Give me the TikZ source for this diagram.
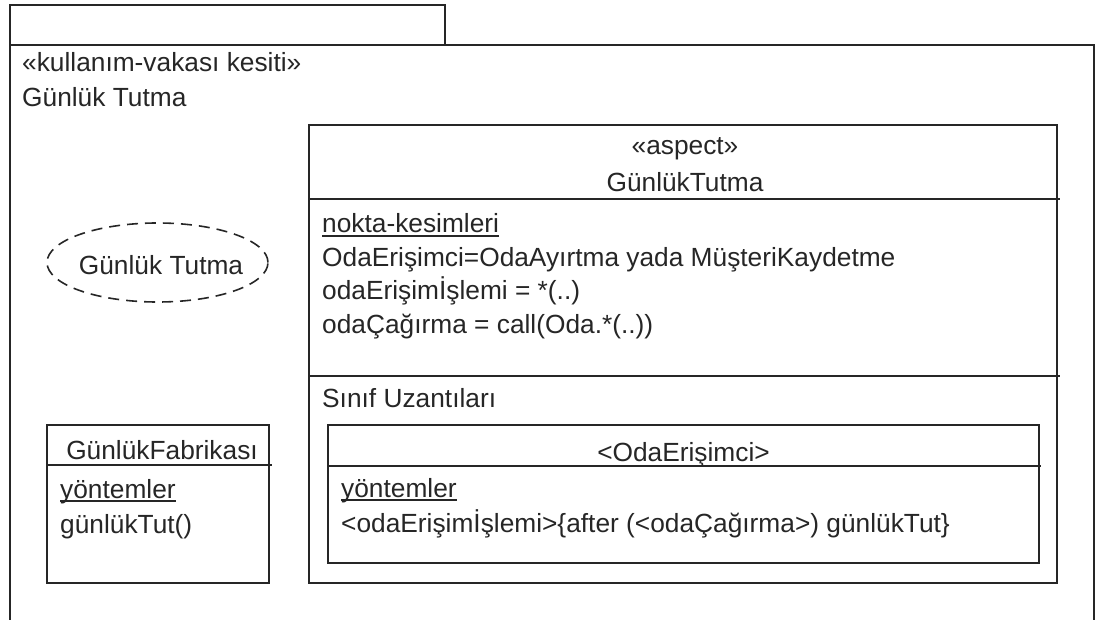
\documentclass[tikz,border=0pt]{standalone}
\usepackage{fontspec}
\setmainfont{Liberation Sans}
\usetikzlibrary{shapes.geometric}

\tikzset{
  line/.style={draw=black!85, line width=1.6pt},
  txt/.style={anchor=base west, inner sep=0pt, font=\fontsize{26.3}{30}\selectfont, text=black!85},
  ctxt/.style={anchor=base, inner sep=0pt, font=\fontsize{26.3}{30}\selectfont, text=black!85},
  ul/.style={draw=black!85, line width=1.2pt},
}

\begin{document}
\begin{tikzpicture}[x=1pt, y=-1pt]
  \useasboundingbox (0,0) rectangle (1096,620);

  % package frame: name tab and open-bottom body
  \draw[line] (10,5) rectangle (445,45);
  \draw[line] (10,620) -- (10,45) -- (1094,45) -- (1094,620);
  \node[txt] (stereo) at (22,72) {«kullanım-vakası kesiti»};
  \node[txt] (pkgname) at (22,107) {Günlük Tutma};

  % use case
  \node[ellipse, line, dash pattern=on 11pt off 7pt, minimum width=221pt, minimum height=79pt, inner sep=0pt] (uc) at (157.5,262.5) {};
  \node[ctxt] (uclabel) at (161,275) {Günlük Tutma};

  % factory class
  \draw[line] (47,425) rectangle (269,583);
  \draw[line] (47,465) -- (272,465);
  \node[ctxt] (fabname) at (162,460) {GünlükFabrikası};
  \node[txt] (fabsec) at (60,498) {yöntemler};
  \draw[ul] ([yshift=-3pt]fabsec.base west) -- ([yshift=-3pt]fabsec.base east);
  \node[txt] (fabop) at (60,533) {günlükTut()};

  % aspect
  \draw[line] (309,125) rectangle (1057,583);
  \draw[line] (309,199) -- (1060,199);
  \draw[line] (309,376) -- (1060,376);
  \node[ctxt] (aspst) at (685,155) {«aspect»};
  \node[ctxt] (aspname) at (685,192) {GünlükTutma};
  \node[txt] (pcsec) at (322,233) {nokta-kesimleri};
  \draw[ul] ([yshift=-3pt]pcsec.base west) -- ([yshift=-3pt]pcsec.base east);
  \node[txt] (pc1) at (322,267) {OdaErişimci=OdaAyırtma yada MüşteriKaydetme};
  \node[txt] (pc2) at (322,300) {odaErişimİşlemi = *(..)};
  \node[txt] (pc3) at (322,334) {odaÇağırma = call(Oda.*(..))};
  \node[txt] (extsec) at (322,408) {Sınıf Uzantıları};

  % class extension inside the aspect
  \draw[line] (328,425) rectangle (1039,563);
  \draw[line] (328,466) -- (1041,466);
  \node[ctxt] (extname) at (683.5,461) {<OdaErişimci>};
  \node[txt] (extops) at (341,497) {yöntemler};
  \draw[ul] ([yshift=-3pt]extops.base west) -- ([yshift=-3pt]extops.base east);
  \node[txt] (extop) at (341,532) {<odaErişimİşlemi>\{after (<odaÇağırma>) günlükTut\}};
\end{tikzpicture}
\end{document}
